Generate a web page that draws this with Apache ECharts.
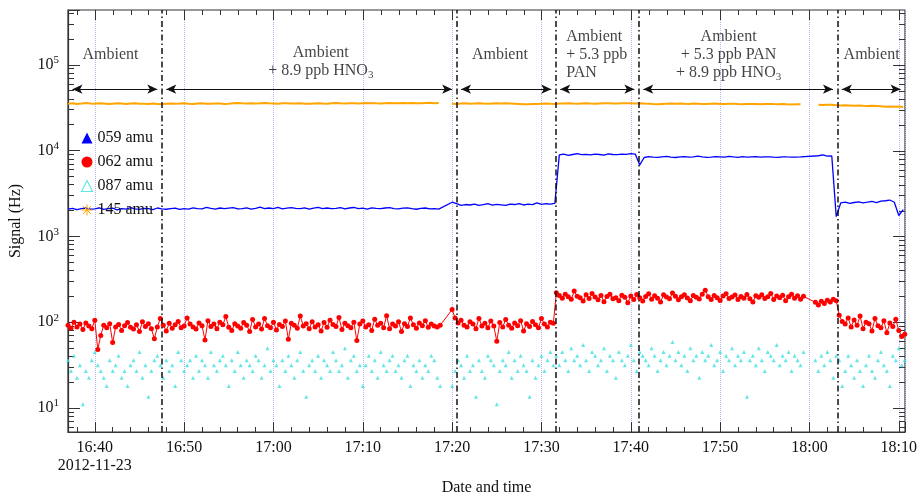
<!DOCTYPE html>
<html lang="en">
<head>
<meta charset="UTF-8">
<title>Signal (Hz) - 2012-11-23</title>
<script src="https://cdn.jsdelivr.net/npm/echarts@6/dist/echarts.min.js"></script>
<style>
  html, body { margin: 0; padding: 0; background: #fff; }
  #main { width: 920px; height: 501px; }
</style>
</head>
<body>
<div id="main"></div>
<script>
// x is minutes after midnight (16:40 = 1000)
const xMin = 997, xMax = 1090.7;
const yMin = 5.24, yMax = 435000;
const t0 = 997;           // first sample 16:37:00
const stepLine = 0.5;     // 059 / 145 amu every 30 s
const stepDots = 1 / 3;   // 062 / 087 amu every 20 s

const amu059 = [
  2080,2120,2050,2100,2140,2070,2090,2150,2060,2100,
  2130,2040,2110,2080,2160,2090,2060,2120,2100,2050,
  2140,2090,2070,2110,2130,2060,2100,2080,2150,2110,
  2090,2170,2120,2080,2140,2100,2130,2160,2090,2110,
  2150,2080,2120,2190,2100,2140,2110,2170,2090,2130,
  2160,2120,2100,2150,2080,2130,2180,2110,2140,2100,
  2120,2160,2090,2140,2170,2110,2130,2080,2150,2120,
  2100,2140,2160,2110,2090,2130,2150,2100,2070,2120,
  2140,2090,2110,2080,null,null,
  2500,2400,2300,2350,2320,2380,2300,2340,2400,2310,2360,2330,
  2290,2370,2350,2410,2320,2380,2340,2450,2360,2400,2380,2420,
  8900,9100,8800,9000,9200,8950,9050,8900,9100,9000,8850,9150,9000,8950,9100,9050,9200,9100,
  6800,
  8300,8500,8400,8350,8450,8550,8400,8300,8450,8500,
  8380,8420,8600,8450,8350,8400,8500,8450,8380,8550,
  8420,8350,8480,8400,8450,8500,8380,8420,8460,8400,
  8350,8450,8420,8400,8380,8420,null,null,null,
  8700,8900,8600,8650,
  1700,
  2450,2500,2420,2480,2520,2460,2500,2550,2480,2580,2600,
  2650,2500,1750,2050
];

const amu145 = [
  35200,35500,35000,35300,35800,35400,35100,35600,35300,34900,
  35200,35500,35300,35000,35400,35700,35200,35100,34800,35300,
  35000,34600,35200,35400,35100,35300,35600,35200,35000,35300,
  35500,35200,35100,35400,35300,35000,35200,35600,35800,35500,
  35400,35700,35300,35500,35900,35600,35400,35200,35500,35700,
  35400,35300,35600,35200,35100,35400,35500,35300,35200,35600,
  35800,35500,35400,35700,35500,35300,35600,35900,35700,35500,
  35400,35600,35800,35500,35700,35900,35600,35800,35500,35700,
  35900,36000,35700,35800,null,null,
  35200,35000,35300,35500,35200,35400,35600,35300,35100,35400,
  35500,35300,35600,35400,35200,35000,34700,34600,34800,35000,
  35200,35300,35100,35000,35300,35400,35600,35300,35100,35400,
  35500,35300,35200,35400,35600,35500,35300,35400,35600,35700,
  35500,35400,35600,35300,35100,34800,34600,34900,35100,35300,
  35200,35400,35100,35000,35300,35200,35000,34800,35100,35300,
  35000,34900,35200,35100,34800,34700,34900,35000,34800,34600,
  34900,35000,34800,34700,34900,34600,34500,34700,34600,
  null,null,null,
  34200,34000,34300,34100,33800,33500,33800,33600,33300,33500,
  33200,33000,33300,33100,32800,32500,32700,32400,32600,32300
];

const amu062 = [
  92,85,100,88,95,82,98,90,84,105,
  48,70,92,86,96,58,88,94,80,91,
  99,87,83,93,78,101,89,96,84,64,
  88,110,92,79,97,85,93,102,86,90,
  112,95,88,83,98,91,62,104,89,95,
  84,100,93,116,87,80,96,90,85,99,
  92,78,107,88,95,83,110,91,86,100,
  81,94,89,103,63,97,92,85,118,90,
  96,84,101,88,93,79,99,87,105,94,
  89,113,82,97,91,86,100,61,95,103,
  88,93,80,108,92,97,86,119,84,95,
  90,101,78,96,89,112,93,85,98,91,
  104,87,95,90,88,92,
  null,null,null,
  140,112,98,105,92,88,101,95,84,110,
  90,97,86,103,90,60,99,88,107,92,
  85,98,91,104,79,96,89,102,93,86,
  110,95,88,100,97,
  220,205,190,212,198,185,230,200,193,176,
  208,189,215,196,182,204,173,199,211,187,
  193,178,206,195,168,201,183,210,192,176,
  199,214,185,203,190,172,208,196,187,218,
  200,182,197,209,191,177,204,195,186,212,
  236,198,184,205,193,179,201,214,188,196,
  207,183,199,190,210,187,172,203,195,208,
  189,198,215,184,201,192,206,178,197,211,
  190,203,185,200,
  null,null,null,
  170,158,175,165,180,172,185,178,
  120,102,95,112,88,106,92,118,84,100,96,79,
  110,91,86,104,75,98,89,108,80,68,72
];

const amu087 = [
  36,27,40.5,22.5,31.5,11,27,22.5,36,45,
  31.5,27,22.5,18,36,27,31.5,40.5,22.5,27,
  18,31.5,36,27,45,22.5,31.5,13.5,27,36,
  40.5,31.5,22.5,36,27,31.5,18,45,36,27,
  31.5,36,22.5,40.5,27,36,31.5,22.5,45,31.5,
  27,36,40.5,31.5,18,36,27,45,31.5,22.5,
  36,31.5,27,40.5,36,22.5,31.5,49.5,27,36,
  31.5,18,36,27,40.5,31.5,22.5,36,45,27,
  13.5,31.5,36,27,40.5,22.5,36,31.5,27,45,
  36,27,31.5,49.5,22.5,36,40.5,27,31.5,18,
  31.5,40.5,27,36,22.5,45,31.5,27,36,40.5,
  27,31.5,22.5,36,40.5,18,31.5,27,36,22.5,
  31.5,27,40.5,36,22.5,18,
  null,null,null,
  18,27,36,31.5,22.5,40.5,27,31.5,13.5,36,
  27,22.5,40.5,36,31.5,11,27,36,31.5,45,
  22.5,36,27,40.5,31.5,27,13.5,36,22.5,31.5,
  40.5,27,36,45,31.5,
  40.5,31.5,45,36,27,49.5,36,40.5,31.5,54,
  36,27,45,40.5,31.5,36,49.5,27,40.5,36,
  22.5,45,36,31.5,40.5,54,36,27,45,40.5,
  36,31.5,49.5,40.5,27,36,45,31.5,40.5,58.5,
  36,45,31.5,40.5,27,49.5,36,40.5,22.5,45,
  36,40.5,54,31.5,36,45,27,40.5,36,49.5,
  31.5,40.5,36,45,13.5,36,40.5,31.5,49.5,36,
  27,45,40.5,36,54,31.5,40.5,36,45,27,
  40.5,36,31.5,45,
  null,null,null,
  36,27,40.5,31.5,45,36,22.5,40.5,
  36,18,27,40.5,31.5,22.5,36,27,18,31.5,40.5,27,
  22.5,36,45,31.5,27,18,40.5,36,49.5,31.5,36
];

// segment boundaries (dash-dot lines), minutes
const bounds = [1007.5, 1040.5, 1051.6, 1060.9, 1083.13];
const arrowY = 52000;

// segment notes: text, anchor x (min), anchor y (Hz), alignment
const noteText = [
  'Ambient',
  'Ambient\n+ 8.9 ppb HNO{sub|3}',
  'Ambient',
  'Ambient\n+ 5.3 ppb\nPAN',
  'Ambient\n+ 5.3 ppb PAN\n+ 8.9 ppb HNO{sub|3}',
  'Ambient'
];
const noteX = [1001.75, 1025.3, 1045.35, 1052.77, 1070.95, 1086.96];
const noteY = [132000, 108000, 132000, 130000, 130000, 132000];
const noteAlign = ['center', 'center', 'center', 'left', 'center', 'center'];

const serif = '"Liberation Serif", "Times New Roman", serif';
const ink = '#111';
const frame = '#333';

function toPairs(arr, step) {
  return arr.map(function (v, i) { return [t0 + i * step, v]; });
}

function hhmm(v) {
  const h = Math.floor(v / 60);
  const m = Math.round(v - h * 60);
  return h + ':' + ('0' + m).slice(-2);
}

// mirrored ticks on the top and right edges: [x, y, length]
const topTicks = [];
for (let m = 998; m <= 1090; m += 2) {
  topTicks.push([m, yMax, m % 10 === 0 ? 10 : 5]);
}
const rightTicks = [];
for (let e = 0; e <= 5; e++) {
  for (let k = 1; k <= 9; k++) {
    const v = k * Math.pow(10, e);
    if (v > yMin && v < yMax) rightTicks.push([xMax, v, k === 1 ? 12 : 6]);
  }
}

function renderTopTick(params, api) {
  const cs = params.coordSys;
  const x = Math.round(api.coord([api.value(0), yMax])[0]) + 0.5;
  return {
    type: 'line',
    shape: { x1: x, y1: cs.y, x2: x, y2: cs.y + api.value(2) },
    style: { stroke: frame, lineWidth: 1 }
  };
}

function renderRightTick(params, api) {
  const cs = params.coordSys;
  const y = Math.round(api.coord([xMax, api.value(1)])[1]) + 0.5;
  const right = cs.x + cs.width;
  return {
    type: 'line',
    shape: { x1: right, y1: y, x2: right - api.value(2), y2: y },
    style: { stroke: frame, lineWidth: 1 }
  };
}

const segEdges = [xMin].concat(bounds, [xMax]);
const arrows = [];
for (let i = 0; i < segEdges.length - 1; i++) {
  arrows.push([
    { coord: [segEdges[i] + 0.5, arrowY], symbol: 'arrow' },
    { coord: [segEdges[i + 1] - 0.5, arrowY], symbol: 'arrow' }
  ]);
}

const notes = noteText.map(function (t, i) {
  return {
    value: [noteX[i], noteY[i]],
    label: { formatter: t, align: noteAlign[i] }
  };
});

const myChart = echarts.init(document.getElementById('main'));
const option = {
  animation: false,
  textStyle: { fontFamily: serif },
  grid: {
    left: 68, right: 12, top: 10, bottom: 63,
    show: true, borderColor: frame, borderWidth: 1.2, backgroundColor: 'transparent'
  },
  legend: {
    orient: 'vertical',
    left: 74,
    top: 125,
    itemWidth: 11,
    itemHeight: 11,
    itemGap: 8,
    textStyle: { fontFamily: serif, fontSize: 16, color: ink },
    data: [
      { name: '059 amu', icon: 'triangle', itemStyle: { color: '#0000ff' } },
      { name: '062 amu', icon: 'circle', itemStyle: { color: '#ff0000' } },
      { name: '087 amu', icon: 'triangle',
        itemStyle: { color: '#fff', borderColor: '#3fe0e0', borderWidth: 1.2 } },
      { name: '145 amu',
        icon: 'path://M5 0L5 10M0 5L10 5M1.5 1.5L8.5 8.5M8.5 1.5L1.5 8.5',
        itemStyle: { color: 'none', borderColor: '#ffa500', borderWidth: 1 } }
    ]
  },
  xAxis: {
    type: 'value',
    min: xMin,
    max: xMax,
    minInterval: 10,
    maxInterval: 10,
    name: 'Date and time',
    nameLocation: 'middle',
    nameGap: 48,
    nameTextStyle: { fontFamily: serif, fontSize: 16, color: ink },
    axisLine: { show: true, onZero: false, lineStyle: { color: frame, width: 1.2 } },
    axisTick: { show: true, inside: true, length: 10, lineStyle: { color: frame, width: 1 } },
    minorTick: { show: true, splitNumber: 5, length: 5, lineStyle: { color: frame, width: 1 } },
    axisLabel: {
      margin: 7,
      fontFamily: serif,
      fontSize: 16,
      lineHeight: 18,
      color: ink,
      formatter: function (v) {
        if (Math.abs(v - Math.round(v / 10) * 10) > 1e-6) return '';
        return Math.round(v) === 1000 ? hhmm(v) + '\n2012-11-23' : hhmm(v);
      }
    },
    splitLine: { show: true, lineStyle: { color: '#b4b4f0', type: 'dotted', width: 1 } }
  },
  yAxis: {
    type: 'log',
    min: yMin,
    max: yMax,
    name: 'Signal (Hz)',
    nameLocation: 'middle',
    nameGap: 44,
    nameTextStyle: { fontFamily: serif, fontSize: 16, color: ink },
    axisLine: { show: true, lineStyle: { color: frame, width: 1.2 } },
    axisTick: { show: true, inside: true, length: 12, lineStyle: { color: frame, width: 1 } },
    minorTick: { show: true, splitNumber: 9, length: 6, lineStyle: { color: frame, width: 1 } },
    axisLabel: {
      margin: 9,
      fontFamily: serif,
      fontSize: 16,
      color: ink,
      formatter: function (v) {
        const e = Math.log10(v);
        if (Math.abs(e - Math.round(e)) > 1e-6) return '';
        return '10{sup|' + Math.round(e) + '}';
      },
      rich: {
        sup: { fontFamily: serif, fontSize: 11, color: ink, padding: [0, 0, 9, 0] }
      }
    },
    splitLine: { show: false }
  },
  series: [
    {
      name: '087 amu',
      type: 'scatter',
      symbol: 'triangle',
      symbolSize: 4,
      itemStyle: { color: '#3fe0e0' },
      data: toPairs(amu087, stepDots)
    },
    {
      name: '145 amu',
      type: 'line',
      showSymbol: false,
      connectNulls: false,
      lineStyle: { color: '#ffa500', width: 2 },
      itemStyle: { color: '#ffa500' },
      data: toPairs(amu145, stepLine),
      markLine: {
        silent: true,
        symbolSize: [7, 10],
        label: { show: false },
        lineStyle: { color: '#111', width: 1.2, type: 'solid' },
        data: arrows
      }
    },
    {
      name: '059 amu',
      type: 'line',
      showSymbol: false,
      connectNulls: true,
      lineStyle: { color: '#0000ff', width: 1.3 },
      itemStyle: { color: '#0000ff' },
      data: toPairs(amu059, stepLine)
    },
    {
      name: '062 amu',
      type: 'line',
      symbol: 'circle',
      symbolSize: 5,
      showAllSymbol: true,
      connectNulls: true,
      lineStyle: { color: '#ff0000', width: 1 },
      itemStyle: { color: '#ff0000' },
      data: toPairs(amu062, stepDots)
    },
    {
      name: 'notes',
      type: 'scatter',
      symbolSize: 0,
      z: 5,
      label: {
        show: true,
        position: 'inside',
        verticalAlign: 'middle',
        fontFamily: serif,
        fontSize: 16,
        lineHeight: 18,
        color: ink,
        rich: {
          sub: { fontFamily: serif, fontSize: 11, color: ink, padding: [8, 0, 0, 0] }
        }
      },
      data: notes,
      markLine: {
        silent: true,
        symbol: ['none', 'none'],
        label: { show: false },
        lineStyle: { color: '#111', width: 1.5, type: [6, 3, 1.5, 3] },
        data: bounds.map(function (b) { return { xAxis: b }; })
      }
    },
    {
      type: 'custom',
      clip: false,
      renderItem: renderTopTick,
      data: topTicks
    },
    {
      type: 'custom',
      clip: false,
      renderItem: renderRightTick,
      data: rightTicks
    }
  ]
};
myChart.setOption(option);
</script>
</body>
</html>
